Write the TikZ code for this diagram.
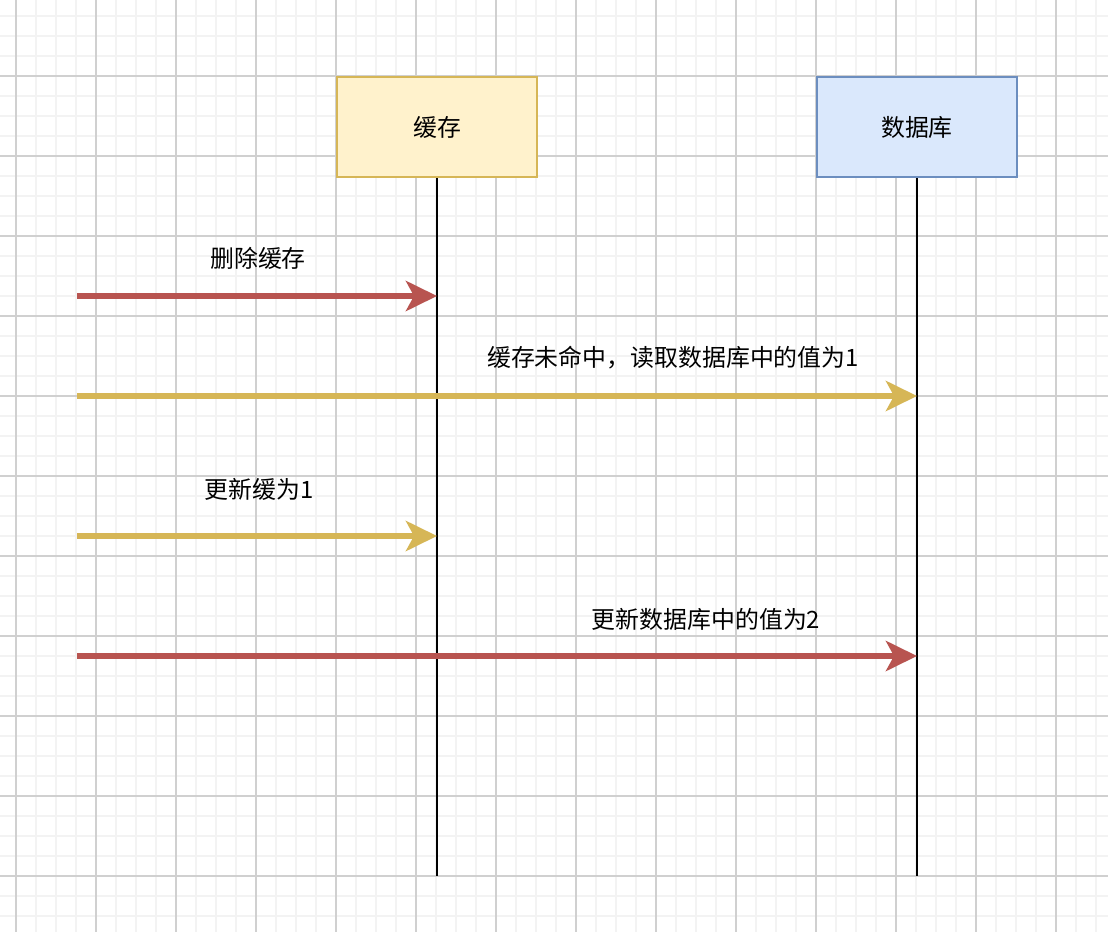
\documentclass[tikz,border=0pt]{standalone}
\usepackage{fontspec}
\setmainfont{Noto Sans CJK SC}
\usetikzlibrary{arrows.meta}

\definecolor{minorgrid}{HTML}{F3F3F3}
\definecolor{majorgrid}{HTML}{D0D0D0}
\definecolor{cachefill}{HTML}{FFF2CC}
\definecolor{cacheline}{HTML}{D6B656}
\definecolor{dbfill}{HTML}{DAE8FC}
\definecolor{dbline}{HTML}{6C8EBF}
\definecolor{msgred}{HTML}{B85450}
\definecolor{msgyellow}{HTML}{D6B656}

\tikzset{
  actor/.style={draw, line width=1.5pt, minimum width=4cm, minimum height=2cm,
    inner sep=0pt, font=\fontsize{13.6}{16}\selectfont},
  lifeline/.style={draw=black, line width=1.4pt},
  msg/.style={line width=3.4pt, -{Stealth[length=0.62cm, width=0.6cm, inset=0.16cm]}},
  msglabel/.style={font=\fontsize{13.6}{16}\selectfont, inner sep=0pt}
}

\begin{document}
\begin{tikzpicture}[x=0.02cm, y=-0.02cm]
   \useasboundingbox[fill=white] (0,0) rectangle (1108,932);

   % grid
   \foreach \gx in {16,36,...,1096} \draw[minorgrid, line width=1.1pt] (\gx,0) -- (\gx,932);
   \foreach \gy in {16,36,...,916} \draw[minorgrid, line width=1.1pt] (0,\gy) -- (1108,\gy);
   \foreach \gx in {16,96,...,1056} \draw[majorgrid, line width=0.6pt] (\gx,0) -- (\gx,932);
   \foreach \gy in {76,156,...,876} \draw[majorgrid, line width=0.6pt] (0,\gy) -- (1108,\gy);

   \node[actor, draw=cacheline, fill=cachefill] (cache) at (437,127) {缓存};
   \node[actor, draw=dbline, fill=dbfill] (db) at (917,127) {数据库};

   \coordinate (cacheend) at (437,876);
   \coordinate (dbend) at (917,876);
   \path[lifeline] (cache) -- (cacheend);
   \path[lifeline] (db) -- (dbend);

   \coordinate (s1) at (77,296);
   \coordinate (e1) at (437,296);
   \coordinate (s2) at (77,396);
   \coordinate (e2) at (917,396);
   \coordinate (s3) at (77,536);
   \coordinate (e3) at (437,536);
   \coordinate (s4) at (77,656);
   \coordinate (e4) at (917,656);

   \draw[msg, msgred] (s1) -- (e1);
   \draw[msg, msgyellow] (s2) -- (e2);
   \draw[msg, msgyellow] (s3) -- (e3);
   \draw[msg, msgred] (s4) -- (e4);

   \node[msglabel] (l1) at (258,258) {删除缓存};
   \node[msglabel] (l2) at (673,358) {缓存未命中，读取数据库中的值为1};
   \node[msglabel] (l3) at (259,489) {更新缓为1};
   \node[msglabel] (l4) at (706,619) {更新数据库中的值为2};

\end{tikzpicture}
\end{document}
